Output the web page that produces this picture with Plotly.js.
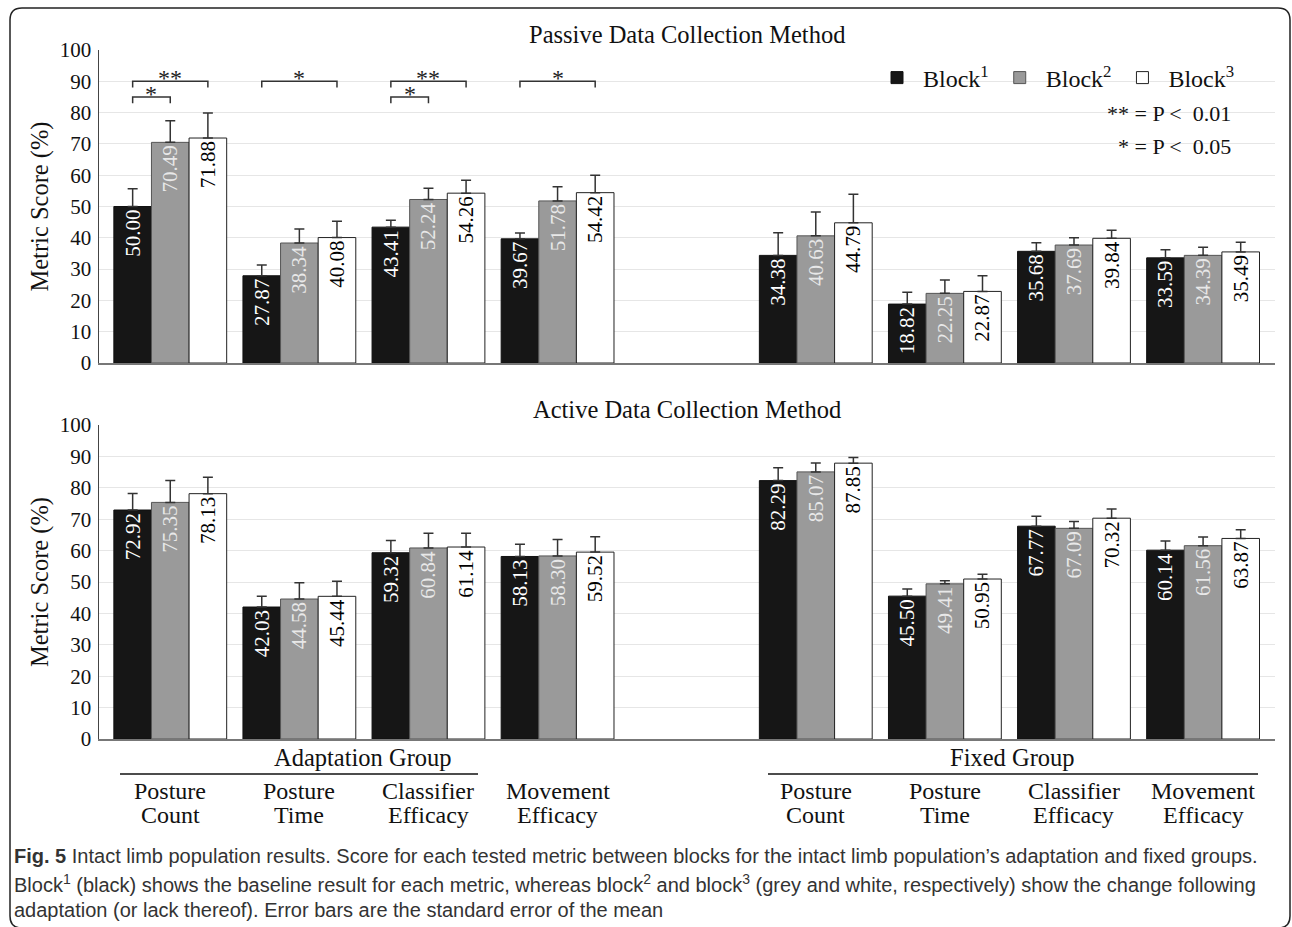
<!DOCTYPE html>
<html>
<head>
<meta charset="utf-8">
<script src="https://cdn.plot.ly/plotly-3.0.1.min.js"></script>
<style>html,body{margin:0;padding:0;background:#fff;}#chart{width:1292px;height:927px;}</style>
</head>
<body>
<div id="chart"></div>
<script>
// ---- data ----
const metrics = ["Posture<br>Count", "Posture<br>Time", "Classifier<br>Efficacy", "Movement<br>Efficacy"];
const groups = ["Adaptation Group", "Fixed Group"];
const blockNames = ["Block<sup>1</sup>", "Block<sup>2</sup>", "Block<sup>3</sup>"];

// order: Adaptation (PC, PT, CE, ME), Fixed (PC, PT, CE, ME)
const passiveB1 = [50.00, 27.87, 43.41, 39.67, 34.38, 18.82, 35.68, 33.59];
const passiveB2 = [70.49, 38.34, 52.24, 51.78, 40.63, 22.25, 37.69, 34.39];
const passiveB3 = [71.88, 40.08, 54.26, 54.42, 44.79, 22.87, 39.84, 35.49];
const passiveE1 = [5.7, 3.4, 2.2, 1.9, 7.2, 3.8, 2.7, 2.6];
const passiveE2 = [6.9, 4.5, 3.6, 4.5, 7.6, 4.3, 2.3, 2.6];
const passiveE3 = [8.0, 5.2, 4.1, 5.6, 9.1, 5.0, 2.6, 3.1];

const activeB1 = [72.92, 42.03, 59.32, 58.13, 82.29, 45.50, 67.77, 60.14];
const activeB2 = [75.35, 44.58, 60.84, 58.30, 85.07, 49.41, 67.09, 61.56];
const activeB3 = [78.13, 45.44, 61.14, 59.52, 87.85, 50.95, 70.32, 63.87];
const activeE1 = [5.3, 3.4, 3.9, 3.9, 4.1, 2.3, 3.2, 2.9];
const activeE2 = [7.0, 5.2, 4.7, 5.2, 2.8, 1.0, 2.2, 2.8];
const activeE3 = [5.2, 4.8, 4.4, 4.9, 1.8, 1.5, 2.9, 2.8];

// significance (passive, adaptation group)
const sigMetric = [0, 0, 1, 2, 2, 3];
const sigFrom   = [0, 0, 0, 0, 0, 0];
const sigTo     = [1, 2, 2, 1, 2, 2];
const sigLabel  = ["*", "**", "*", "*", "**", "*"];
const sigLevel  = [85, 90, 90, 85, 90, 90];

// ---- layout geometry ----
const L = 99, R = 1275, T = 50, B = 739;
const W = R - L, H = B - T;
const px = x => (x - L) / W;
const py = y => (B - y) / H;
const SERIF = "'Liberation Serif', 'Times New Roman', serif";
const BARGAP = 0.126;
const barW = (1 - BARGAP) / 3;

// x position of each category: groups separated by one empty slot
const xPos = [];
groups.forEach((g, gi) => metrics.forEach((m, mi) => xPos.push(gi * (metrics.length + 1) + mi)));

const fills = ["#161616", "#9a9a9a", "#ffffff"];
const outlines = ["#111111", "#555555", "#222222"];
const textColors = ["#ffffff", "#e8e8e8", "#000000"];

function barTrace(vals, errs, k, xa, ya, show) {
  return {
    type: "bar", x: xPos, y: vals, name: blockNames[k],
    text: vals.map(v => v.toFixed(2)),
    textposition: "inside", insidetextanchor: "end", textangle: -90,
    insidetextfont: {family: SERIF, size: 21, color: textColors[k]},
    marker: {color: fills[k], line: {color: outlines[k], width: 1}},
    error_y: {type: "data", symmetric: false, array: errs, arrayminus: errs.map(() => 0),
              color: "#333", thickness: 1.5, width: 5},
    xaxis: xa, yaxis: ya, showlegend: show, hoverinfo: "skip"
  };
}

const data = [
  barTrace(passiveB1, passiveE1, 0, "x", "y", true),
  barTrace(passiveB2, passiveE2, 1, "x", "y", true),
  barTrace(passiveB3, passiveE3, 2, "x", "y", true),
  barTrace(activeB1, activeE1, 0, "x2", "y2", false),
  barTrace(activeB2, activeE2, 1, "x2", "y2", false),
  barTrace(activeB3, activeE3, 2, "x2", "y2", false)
];

const xRange = [-0.552, 8.557];
const yCommon = {
  range: [0, 100], dtick: 10, showgrid: true, gridcolor: "#e6e6e6", gridwidth: 1,
  showline: true, linecolor: "#444", linewidth: 1.5, zeroline: false, ticks: "",
  ticklabelstandoff: 2, tickfont: {family: SERIF, size: 21, color: "#111"},
  title: {text: "Metric Score (%)", font: {family: SERIF, size: 24.5, color: "#111"}, standoff: 4},
  fixedrange: true
};
const xCommon = {
  range: xRange, showgrid: false, zeroline: false, showline: true,
  linecolor: "#777", linewidth: 2, ticks: "", showticklabels: false, fixedrange: true
};

const shapes = [];
const annotations = [];

// significance brackets
sigMetric.forEach((m, i) => {
  const x1 = xPos[m] + (sigFrom[i] - 1) * barW;
  const x2 = xPos[m] + (sigTo[i] - 1) * barW;
  const lv = sigLevel[i];
  shapes.push({type: "path", xref: "x", yref: "y",
    path: `M${x1},${lv - 2} L${x1},${lv} L${x2},${lv} L${x2},${lv - 2}`,
    line: {color: "#333", width: 1.5}});
  annotations.push({xref: "x", yref: "y", x: (x1 + x2) / 2, y: lv, yanchor: "middle", xanchor: "center",
    yshift: 3, text: sigLabel[i], showarrow: false, font: {family: SERIF, size: 24, color: "#222"}});
});

// subplot titles
annotations.push({xref: "paper", yref: "paper", x: 0.5, y: py(34), yanchor: "middle", xanchor: "center",
  text: "Passive Data Collection Method", showarrow: false, font: {family: SERIF, size: 24.5, color: "#111"}});
annotations.push({xref: "paper", yref: "paper", x: 0.5, y: py(409), yanchor: "middle", xanchor: "center",
  text: "Active Data Collection Method", showarrow: false, font: {family: SERIF, size: 24.5, color: "#111"}});

// p-value key
annotations.push({xref: "paper", yref: "paper", x: px(1233), y: py(113), xanchor: "right", yanchor: "middle",
  text: "** = P &lt; \u00a00.01", showarrow: false, font: {family: SERIF, size: 22, color: "#111"}});
annotations.push({xref: "paper", yref: "paper", x: px(1233), y: py(146), xanchor: "right", yanchor: "middle",
  text: "* = P &lt; \u00a00.05", showarrow: false, font: {family: SERIF, size: 22, color: "#111"}});

// category labels (two lines each) under the bottom axis
const catLineY = [791, 815];
xPos.forEach((p, i) => {
  metrics[i % metrics.length].split("<br>").forEach((line, li) => {
    annotations.push({xref: "x2", yref: "paper", x: p, y: py(catLineY[li]), xanchor: "center", yanchor: "middle",
      text: line, showarrow: false, font: {family: SERIF, size: 24, color: "#111"}});
  });
});

// group labels and lines
const groupTextX = [363, 1012];
const groupLine = [[120, 478], [768, 1258]];
groups.forEach((g, gi) => {
  annotations.push({xref: "paper", yref: "paper", x: px(groupTextX[gi]), y: py(757), xanchor: "center", yanchor: "middle",
    text: g, showarrow: false, font: {family: SERIF, size: 24.5, color: "#111"}});
  shapes.push({type: "line", xref: "paper", yref: "paper",
    x0: px(groupLine[gi][0]), x1: px(groupLine[gi][1]), y0: py(774), y1: py(774),
    line: {color: "#111", width: 1.5}});
});

// caption
const CAP = "'Liberation Sans', Arial, sans-serif";
const captionLines = [
  "<b>Fig. 5</b> Intact limb population results. Score for each tested metric between blocks for the intact limb population\u2019s adaptation and fixed groups.",
  "Block<sup>1</sup> (black) shows the baseline result for each metric, whereas block<sup>2</sup> and block<sup>3</sup> (grey and white, respectively) show the change following",
  "adaptation (or lack thereof). Error bars are the standard error of the mean"
];
const captionY = [856, 883, 910];
captionLines.forEach((t, i) => {
  annotations.push({xref: "paper", yref: "paper", x: px(12), y: py(captionY[i]), xanchor: "left", yanchor: "middle",
    align: "left", text: t, showarrow: false, font: {family: CAP, size: 20, color: "#333"}});
});

// outer frame
const fx0 = 10, fy0 = 8, fx1 = 1290, fy1 = 928, r = 12;
shapes.push({type: "path", xref: "paper", yref: "paper",
  path: `M${px(fx0 + r)},${py(fy0)} L${px(fx1 - r)},${py(fy0)} Q${px(fx1)},${py(fy0)} ${px(fx1)},${py(fy0 + r)} ` +
        `L${px(fx1)},${py(fy1 - r)} Q${px(fx1)},${py(fy1)} ${px(fx1 - r)},${py(fy1)} ` +
        `L${px(fx0 + r)},${py(fy1)} Q${px(fx0)},${py(fy1)} ${px(fx0)},${py(fy1 - r)} ` +
        `L${px(fx0)},${py(fy0 + r)} Q${px(fx0)},${py(fy0)} ${px(fx0 + r)},${py(fy0)} Z`,
  line: {color: "#222", width: 1.5}});

const layout = {
  width: 1292, height: 927, autosize: false,
  margin: {l: L, r: 1292 - R, t: T, b: 927 - B, pad: 0},
  paper_bgcolor: "#ffffff", plot_bgcolor: "#ffffff",
  barmode: "group", bargap: BARGAP, bargroupgap: 0,
  font: {family: SERIF, color: "#111"},
  xaxis: Object.assign({}, xCommon, {anchor: "y"}),
  xaxis2: Object.assign({}, xCommon, {anchor: "y2", matches: "x"}),
  yaxis: Object.assign({}, yCommon, {domain: [py(363), 1], anchor: "x"}),
  yaxis2: Object.assign({}, yCommon, {domain: [0, py(425)], anchor: "x2"}),
  legend: {orientation: "h", x: px(1240), xanchor: "right", y: py(78), yanchor: "middle",
    font: {family: SERIF, size: 24, color: "#111"}, bgcolor: "rgba(0,0,0,0)", itemwidth: 42,
    traceorder: "normal"},
  shapes: shapes,
  annotations: annotations,
  showlegend: true
};

Plotly.newPlot("chart", data, layout, {staticPlot: true, displayModeBar: false});
</script>
</body>
</html>
